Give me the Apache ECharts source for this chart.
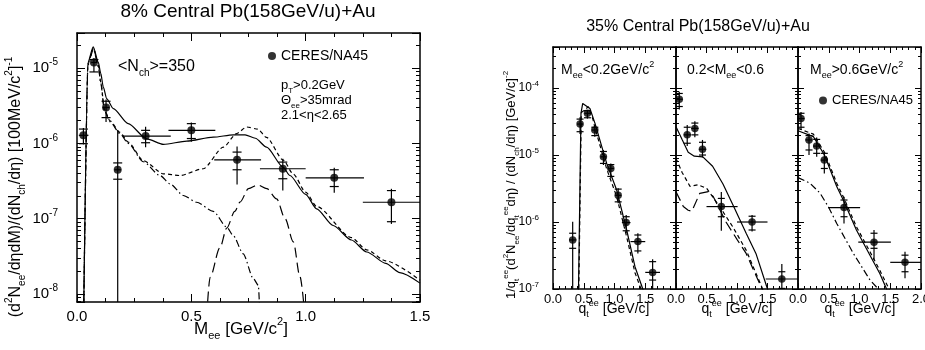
<!DOCTYPE html>
<html><head><meta charset="utf-8">
<script src="https://cdn.jsdelivr.net/npm/echarts@6/dist/echarts.min.js"></script>
<style>html,body{margin:0;padding:0;background:#fff}#c{width:925px;height:350px}</style>
</head><body><div id="c"></div>
<script>
// ===== Left chart: 8% central, dN/dM =====
const massPts   = [0.028, 0.074, 0.127, 0.178, 0.30, 0.50, 0.70, 0.90, 1.125, 1.375];
const massY     = [1.28e-6, 1.19e-5, 3.0e-6, 4.45e-7, 1.25e-6, 1.49e-6, 6.05e-7, 4.6e-7, 3.49e-7, 1.65e-7];
const massXLo   = [0.008, 0.062, 0.112, 0.163, 0.20, 0.40, 0.60, 0.80, 1.00, 1.25];
const massXHi   = [0.050, 0.088, 0.142, 0.193, 0.41, 0.605, 0.805, 1.00, 1.255, 1.50];
const massStatLo= [9.7e-7, 8.9e-6, 1.92e-6, 0, 8.9e-7, 1.05e-6, 2.84e-7, 2.36e-7, 2.2e-7, 8.5e-8];
const massStatHi= [1.6e-6, 1.36e-5, 3.83e-6, 1.49e-6, 1.66e-6, 1.9e-6, 9.1e-7, 6.25e-7, 4.74e-7, 2.49e-7];
const massSysLo = [9.9e-7, 8.9e-6, 2.2e-6, 3.34e-7, 1.02e-6, 1.16e-6, 4.46e-7, 3.39e-7, 2.67e-7, 9.1e-8];
const massSysHi = [1.55e-6, 1.3e-5, 3.63e-6, 5.5e-7, 1.49e-6, 1.83e-6, 7.66e-7, 5.64e-7, 4.46e-7, 2.36e-7];

const totalM = [0.029, 0.048, 0.071, 0.093, 0.104, 0.115, 0.13, 0.159, 0.224, 0.305, 0.378, 0.48, 0.596, 0.684, 0.735, 0.78, 0.829, 0.902, 0.931, 1.0, 1.048, 1.12, 1.2, 1.267, 1.35, 1.412, 1.5];
const totalY = [5e-9, 1.2e-5, 1.92e-5, 1.2e-5, 8.5e-6, 5.6e-6, 3.9e-6, 2.9e-6, 1.83e-6, 1.15e-6, 9.7e-7, 1.07e-6, 1.21e-6, 1.3e-6, 1.3e-6, 1.17e-6, 8.9e-7, 4.8e-7, 3.74e-7, 2.1e-7, 1.35e-7, 8.1e-8, 5.2e-8, 3.6e-8, 2.55e-8, 1.92e-8, 1.39e-8];
const cocktM = [0.029, 0.048, 0.072, 0.093, 0.104, 0.12, 0.144, 0.188, 0.224, 0.29, 0.378, 0.45, 0.552, 0.64, 0.698, 0.742, 0.79, 0.829, 0.902, 0.946, 1.0, 1.048, 1.2, 1.267, 1.35, 1.5];
const cocktY = [5e-9, 1.15e-5, 1.85e-5, 1.1e-5, 6.5e-6, 2.8e-6, 2.0e-6, 1.4e-6, 1.04e-6, 5.9e-7, 3.94e-7, 3.74e-7, 4.6e-7, 8.9e-7, 1.35e-6, 1.65e-6, 1.55e-6, 1.2e-6, 6.0e-7, 3.9e-7, 2.25e-7, 1.45e-7, 5.6e-8, 3.85e-8, 2.75e-8, 1.52e-8];
const dalitzM = [0.029, 0.048, 0.072, 0.093, 0.104, 0.12, 0.144, 0.188, 0.224, 0.29, 0.363, 0.407, 0.465, 0.523, 0.596, 0.655, 0.684, 0.727, 0.771, 0.793, 0.80];
const dalitzY = [5e-9, 1.1e-5, 1.8e-5, 1.05e-5, 6.3e-6, 2.7e-6, 1.95e-6, 1.35e-6, 1.0e-6, 5.7e-7, 3.74e-7, 2.9e-7, 2.03e-7, 1.65e-7, 1.25e-7, 7.7e-8, 5.9e-8, 3.4e-8, 1.6e-8, 1.3e-8, 5e-9];
const rhoM = [0.567, 0.582, 0.625, 0.655, 0.69, 0.713, 0.75, 0.79, 0.83, 0.873, 0.91, 0.946, 0.975, 0.997];
const rhoY = [5e-9, 1.66e-8, 4.1e-8, 7.5e-8, 1.25e-7, 1.66e-7, 2.5e-7, 2.8e-7, 2.5e-7, 1.83e-7, 1.0e-7, 4.9e-8, 1.7e-8, 5e-9];

// ===== Right chart: 35% central, q_t spectra =====
// panel 1: M<0.2
const p1Q = [0.32, 0.44, 0.56, 0.68, 0.82, 0.94, 1.06, 1.19, 1.38, 1.62];
const p1Y = [5.4e-7, 2.9e-5, 4.2e-5, 2.36e-5, 9.4e-6, 6.3e-6, 2.5e-6, 9.8e-7, 5.1e-7, 1.77e-7];
const p1QLo = [0.26, 0.39, 0.51, 0.63, 0.77, 0.89, 1.01, 1.12, 1.26, 1.50];
const p1QHi = [0.38, 0.49, 0.61, 0.73, 0.87, 0.99, 1.11, 1.26, 1.50, 1.74];
const p1StatLo = [0, 2.06e-5, 3.5e-5, 1.87e-5, 7.1e-6, 4.5e-6, 1.9e-6, 6.8e-7, 3.4e-7, 1e-7];
const p1StatHi = [1.01e-6, 3.65e-5, 4.7e-5, 2.7e-5, 1.19e-5, 7.5e-6, 3.2e-6, 1.27e-6, 6.8e-7, 2.77e-7];
const p1SysLo = [4.05e-7, 2.23e-5, 3.6e-5, 1.95e-5, 7.5e-6, 4.8e-6, 2.0e-6, 7.4e-7, 3.7e-7, 1.36e-7];
const p1SysHi = [6.8e-7, 3.44e-5, 4.6e-5, 2.6e-5, 1.13e-5, 7.2e-6, 3.1e-6, 1.2e-6, 6.4e-7, 2.56e-7];
const p1TotQ = [0.41, 0.455, 0.483, 0.60, 0.683, 0.873, 1.035, 1.198, 1.333, 1.46, 1.5];
const p1TotY = [5e-8, 4.2e-5, 5.9e-5, 4.97e-5, 2.97e-5, 7.5e-6, 3.0e-6, 7.6e-7, 2.15e-7, 1.0e-7, 8e-8];
const p1CocQ = [0.415, 0.46, 0.575, 0.65, 0.68, 0.873, 1.035, 1.198, 1.333, 1.45];
const p1CocY = [5e-8, 4.3e-5, 5.26e-5, 3.4e-5, 2.6e-5, 6.2e-6, 2.4e-6, 6.0e-7, 1.75e-7, 9e-8];
// panel 2: 0.2<M<0.6
const p2Q = [0.054, 0.184, 0.309, 0.434, 0.743, 1.247, 1.735];
const p2Y = [6.8e-5, 2.0e-5, 2.5e-5, 1.22e-5, 1.7e-6, 1.0e-6, 1.41e-7];
const p2QLo = [0.0, 0.125, 0.25, 0.375, 0.5, 1.0, 1.47];
const p2QHi = [0.11, 0.245, 0.37, 0.495, 1.01, 1.5, 2.0];
const p2StatLo = [4.8e-5, 1.36e-5, 1.84e-5, 9.2e-6, 7.4e-7, 7.2e-7, 0];
const p2StatHi = [8.8e-5, 2.8e-5, 3.2e-5, 1.68e-5, 2.8e-6, 1.27e-6, 2.36e-7];
const p2SysLo = [5.3e-5, 1.5e-5, 2.0e-5, 1.0e-5, 1.2e-6, 7.6e-7, 1.02e-7];
const p2SysHi = [8.3e-5, 2.6e-5, 3.0e-5, 1.55e-5, 2.25e-6, 1.22e-6, 1.81e-7];
const p2TotQ = [0.0, 0.1, 0.2, 0.3, 0.44, 0.6, 0.77, 0.94, 1.15, 1.31, 1.5, 1.55];
const p2TotY = [2.65e-5, 1.7e-5, 1.1e-5, 9.6e-6, 9.4e-6, 6.8e-6, 3.7e-6, 1.75e-6, 6.8e-7, 3.4e-7, 1.0e-7, 8e-8];
const p2CocQ = [0.0, 0.1, 0.23, 0.36, 0.5, 0.715, 0.93, 1.15, 1.42, 1.45];
const p2CocY = [8.9e-6, 5.5e-6, 3.4e-6, 3.6e-6, 3.2e-6, 1.7e-6, 8.5e-7, 3.8e-7, 1.0e-7, 9e-8];
const p2AltQ = [0.0, 0.12, 0.2, 0.26, 0.39, 0.53, 0.61, 0.82, 1.0, 1.15, 1.41, 1.45];
const p2AltY = [2.84e-6, 1.7e-6, 1.5e-6, 1.45e-6, 2.68e-6, 2.84e-6, 2.4e-6, 1.0e-6, 5.5e-7, 3.4e-7, 1.0e-7, 9e-8];
// panel 3: M>0.6
const p3Q = [0.049, 0.179, 0.304, 0.428, 0.748, 1.236, 1.74];
const p3Y = [3.5e-5, 1.68e-5, 1.36e-5, 8.4e-6, 1.64e-6, 5.0e-7, 2.5e-7];
const p3QLo = [0.0, 0.12, 0.245, 0.37, 0.49, 0.98, 1.5];
const p3QHi = [0.105, 0.235, 0.36, 0.485, 1.01, 1.51, 2.0];
const p3StatLo = [2.36e-5, 1.0e-5, 9.4e-6, 5.3e-6, 9.5e-7, 2.7e-7, 1.45e-7];
const p3StatHi = [4.4e-5, 2.1e-5, 1.82e-5, 1.12e-5, 2.39e-6, 7.6e-7, 3.6e-7];
const p3SysLo = [2.6e-5, 1.19e-5, 1.06e-5, 6.3e-6, 1.2e-6, 4.05e-7, 1.81e-7];
const p3SysHi = [4.2e-5, 1.95e-5, 1.71e-5, 1.06e-5, 2.13e-6, 6.8e-7, 3.2e-7];
const p3TotQ = [0.0, 0.25, 0.43, 0.63, 0.74, 0.95, 1.17, 1.33, 1.44, 1.47];
const p3TotY = [2.3e-5, 1.88e-5, 1.0e-5, 3.4e-6, 2.1e-6, 7.6e-7, 3.2e-7, 1.7e-7, 1.0e-7, 9e-8];
const p3CocQ = [0.0, 0.25, 0.43, 0.63, 0.74, 0.95, 1.17, 1.33, 1.47, 1.5];
const p3CocY = [2.5e-5, 2.05e-5, 1.1e-5, 3.8e-6, 2.35e-6, 8.5e-7, 3.6e-7, 1.9e-7, 1.05e-7, 9e-8];
const p3AltQ = [0.0, 0.195, 0.358, 0.5, 0.63, 0.9, 1.171, 1.305, 1.33];
const p3AltY = [4.6e-6, 3.8e-6, 2.7e-6, 1.65e-6, 9.5e-7, 3.4e-7, 1.36e-7, 1.0e-7, 9e-8];

// ===== helpers =====
const FF = '"Liberation Sans", Arial, Helvetica, sans-serif';
const pairs = (xs, ys) => xs.map((x, i) => [x, ys[i]]);
const rows = (x, y, xl, xh, sl, sh, yl, yh) => x.map((v, i) => [v, y[i], xl[i], xh[i], sl[i], sh[i], yl[i], yh[i]]);

function richFor(size) {
  const s = Math.round(size * 0.64);
  return {
    sup: {fontSize: s, lineHeight: s, verticalAlign: 'top', color: '#000', fill: '#000', fontFamily: FF},
    sub: {fontSize: s, lineHeight: s, verticalAlign: 'bottom', color: '#000', fill: '#000', fontFamily: FF}
  };
}
function gText(text, x, y, size, align, rotation) {
  const el = {
    type: 'text', x, y, silent: true,
    style: {
      text, fontSize: size, fontFamily: FF, fill: '#000',
      lineHeight: Math.round(size * 1.45),
      align: align || 'left', verticalAlign: 'middle',
      textAlign: align || 'left', textVerticalAlign: 'middle',
      rich: richFor(size)
    }
  };
  if (rotation) el.rotation = rotation;
  return el;
}

const fmtX = v => v.toFixed(1);
const fmtXNo2 = v => Math.abs(v - 2) < 1e-9 ? '' : v.toFixed(1);
const fmtLog = v => {
  const e = Math.log10(v), r = Math.round(e);
  return Math.abs(e - r) < 1e-6 ? '10{sup|' + r + '}' : '';
};

function xAx(gi, max, minorSplit, pos, labels, fmt, fs, margin, tl, ml) {
  return {
    type: 'value', gridIndex: gi, position: pos, min: 0, max: max, interval: 0.5,
    axisLine: {show: true, onZero: false, lineStyle: {color: '#000', width: 1.5}},
    axisTick: {show: true, inside: true, length: tl, lineStyle: {color: '#000', width: 1}},
    minorTick: {show: true, splitNumber: minorSplit, length: ml, lineStyle: {color: '#000', width: 1}},
    splitLine: {show: false}, minorSplitLine: {show: false},
    axisLabel: {show: labels, formatter: fmt, fontSize: fs, margin: margin, color: '#000', fontFamily: FF, hideOverlap: false}
  };
}
function yAx(gi, min, max, pos, labels, fs, margin, tl, ml) {
  return {
    type: 'log', logBase: 10, gridIndex: gi, position: pos, min: min, max: max,
    axisLine: {show: true, onZero: false, lineStyle: {color: '#000', width: 1.5}},
    axisTick: {show: true, inside: true, length: tl, lineStyle: {color: '#000', width: 1}},
    minorTick: {show: true, splitNumber: 9, length: ml, lineStyle: {color: '#000', width: 1}},
    splitLine: {show: false}, minorSplitLine: {show: false},
    axisLabel: {show: labels, formatter: fmtLog, fontSize: fs, margin: margin, color: '#000', fontFamily: FF,
      lineHeight: Math.round(fs * 1.4), rich: richFor(fs), hideOverlap: false}
  };
}

const DASH = [4, 3], DASHDOT = [7, 3, 1.5, 3], LONGDASH = [10, 5];
function lineS(ai, data, type, smooth) {
  return {type: 'line', xAxisIndex: ai, yAxisIndex: ai, data: data, showSymbol: false, symbol: 'none',
    smooth: smooth || false, smoothMonotone: 'x', silent: true, z: 2,
    lineStyle: {color: '#000', width: 1.2, type: type}};
}
function errRender(capHalf) {
  return function (params, api) {
    const cs = params.coordSys;
    const top = cs.y, bottom = cs.y + cs.height, left = cs.x, right = cs.x + cs.width;
    const x = api.value(0), y = api.value(1);
    const c = api.coord([x, y]);
    const a = api.coord([api.value(2), y]), b = api.coord([api.value(3), y]);
    const sl = api.value(4), sh = api.value(5), yl = api.value(6), yh = api.value(7);
    const yLo = sl > 0 ? Math.min(api.coord([x, sl])[1], bottom) : bottom;
    const yHi = Math.max(api.coord([x, sh])[1], top);
    const st = {stroke: '#000', lineWidth: 1.2};
    const kids = [
      {type: 'line', shape: {x1: Math.max(a[0], left), y1: c[1], x2: Math.min(b[0], right), y2: c[1]}, style: st},
      {type: 'line', shape: {x1: c[0], y1: yLo, x2: c[0], y2: yHi}, style: st}
    ];
    [yl, yh].forEach(v => {
      if (v > 0) {
        const p = api.coord([x, v]);
        kids.push({type: 'line', shape: {x1: c[0] - capHalf, y1: p[1], x2: c[0] + capHalf, y2: p[1]}, style: st});
      }
    });
    return {type: 'group', children: kids};
  };
}
function errS(ai, data, capHalf) {
  return {type: 'custom', xAxisIndex: ai, yAxisIndex: ai, data: data, renderItem: errRender(capHalf),
    encode: {x: 0, y: 1}, silent: true, z: 3};
}
function ptS(ai, data, size) {
  return {type: 'scatter', name: 'CERES/NA45', xAxisIndex: ai, yAxisIndex: ai, data: data,
    symbol: 'circle', symbolSize: size, itemStyle: {color: '#000'}, silent: true, z: 4};
}

// axis index layout: grid g -> bottom x = 2g, top x = 2g+1; left y = 2g, right y = 2g+1
const grids = [
  {left: 77, top: 33, width: 343, height: 269},
  {left: 553, top: 47, width: 123, height: 242},
  {left: 676, top: 47, width: 122, height: 242},
  {left: 798, top: 47, width: 123, height: 242}
].map(g => Object.assign({outerBoundsMode: 'none', containLabel: false}, g));

const xAxes = [], yAxes = [];
xAxes.push(xAx(0, 1.5, 4, 'bottom', true, fmtX, 15, 7, 8, 4));
xAxes.push(xAx(0, 1.5, 4, 'top', false, fmtX, 15, 7, 8, 4));
yAxes.push(yAx(0, 7.8e-9, 2.93e-5, 'left', true, 15, 19, 8, 4));
yAxes.push(yAx(0, 7.8e-9, 2.93e-5, 'right', false, 15, 19, 8, 4));
for (let g = 1; g <= 3; g++) {
  xAxes.push(xAx(g, 2.0, 5, 'bottom', true, g === 3 ? fmtX : fmtXNo2, 13, 4, 6, 3));
  xAxes.push(xAx(g, 2.0, 5, 'top', false, fmtX, 13, 4, 6, 3));
  yAxes.push(yAx(g, 1e-7, 4.1e-4, 'left', g === 1, 12, 14, 6, 3));
  yAxes.push(yAx(g, 1e-7, 4.1e-4, 'right', false, 12, 14, 6, 3));
}
// series attach to bottom/left axes: index 2g
const A = [0, 2, 4, 6];

const series = [
  lineS(A[0], pairs(totalM, totalY), 'solid', 0.25),
  lineS(A[0], pairs(cocktM, cocktY), DASH, 0.25),
  lineS(A[0], pairs(dalitzM, dalitzY), DASHDOT, 0.25),
  lineS(A[0], pairs(rhoM, rhoY), LONGDASH, 0.3),
  errS(A[0], rows(massPts, massY, massXLo, massXHi, massStatLo, massStatHi, massSysLo, massSysHi), 4.5),
  ptS(A[0], pairs(massPts, massY), 8),

  lineS(A[1], pairs(p1TotQ, p1TotY), 'solid'),
  lineS(A[1], pairs(p1CocQ, p1CocY), DASH),
  errS(A[1], rows(p1Q, p1Y, p1QLo, p1QHi, p1StatLo, p1StatHi, p1SysLo, p1SysHi), 3.5),
  ptS(A[1], pairs(p1Q, p1Y), 7.5),

  lineS(A[2], pairs(p2TotQ, p2TotY), 'solid'),
  lineS(A[2], pairs(p2CocQ, p2CocY), DASH),
  lineS(A[2], pairs(p2AltQ, p2AltY), LONGDASH),
  errS(A[2], rows(p2Q, p2Y, p2QLo, p2QHi, p2StatLo, p2StatHi, p2SysLo, p2SysHi), 3.5),
  ptS(A[2], pairs(p2Q, p2Y), 7.5),

  lineS(A[3], pairs(p3TotQ, p3TotY), 'solid'),
  lineS(A[3], pairs(p3CocQ, p3CocY), DASH),
  lineS(A[3], pairs(p3AltQ, p3AltY), DASHDOT),
  errS(A[3], rows(p3Q, p3Y, p3QLo, p3QHi, p3StatLo, p3StatHi, p3SysLo, p3SysHi), 3.5),
  ptS(A[3], pairs(p3Q, p3Y), 7.5)
];

const graphics = [
  gText('8% Central Pb(158GeV/u)+Au', 248, 12, 19, 'center'),
  gText('35% Central Pb(158GeV/u)+Au', 698, 27, 16, 'center'),
  gText('<N{sub|ch}>=350', 118, 67, 16, 'left'),
  gText('p{sub|T}>0.2GeV', 281, 85, 13, 'left'),
  gText('Θ{sub|ee}>35mrad', 281, 100, 13, 'left'),
  gText('2.1<η<2.65', 281, 115, 13, 'left'),
  gText('M{sub|ee} [GeV/c{sup|2}]', 241, 329, 17, 'center'),
  gText('(d{sup|2}N{sub|ee}/dηdM)/(dN{sub|ch}/dη) [100MeV/c{sup|2}]{sup|-1}', 16, 187, 16, 'center', Math.PI / 2),
  gText('1/q{sub|t}{sup|ee}(d{sup|2}N{sub|ee}/dq{sub|t}{sup|ee}dη) / (dN{sub|ch}/dη) [GeV/c]{sup|-2}', 511, 185, 13, 'center', Math.PI / 2),
  gText('M{sub|ee}<0.2GeV/c{sup|2}', 561, 70, 14, 'left'),
  gText('0.2<M{sub|ee}<0.6', 687, 70, 14, 'left'),
  gText('M{sub|ee}>0.6GeV/c{sup|2}', 810, 70, 14, 'left'),
  gText('q{sub|t}{sup|ee} [GeV/c]', 614, 309, 14, 'center'),
  gText('q{sub|t}{sup|ee} [GeV/c]', 737, 309, 14, 'center'),
  gText('q{sub|t}{sup|ee} [GeV/c]', 860, 309, 14, 'center')
];

const option = {
  animation: false,
  backgroundColor: '#fff',
  textStyle: {fontFamily: FF, color: '#000'},
  grid: grids,
  xAxis: xAxes,
  yAxis: yAxes,
  legend: [
    {data: ['CERES/NA45'], left: 268, top: 49, padding: 0, itemWidth: 8, itemHeight: 8, icon: 'circle',
      selectedMode: false, textStyle: {fontSize: 14, fontFamily: FF, color: '#000'}},
    {data: ['CERES/NA45'], left: 819, top: 94, padding: 0, itemWidth: 8, itemHeight: 8, icon: 'circle',
      selectedMode: false, textStyle: {fontSize: 13, fontFamily: FF, color: '#000'}}
  ],
  series: series,
  graphic: {elements: graphics}
};

const chart = echarts.init(document.getElementById('c'), null, {renderer: 'canvas'});
chart.setOption(option);
</script>
</body></html>
